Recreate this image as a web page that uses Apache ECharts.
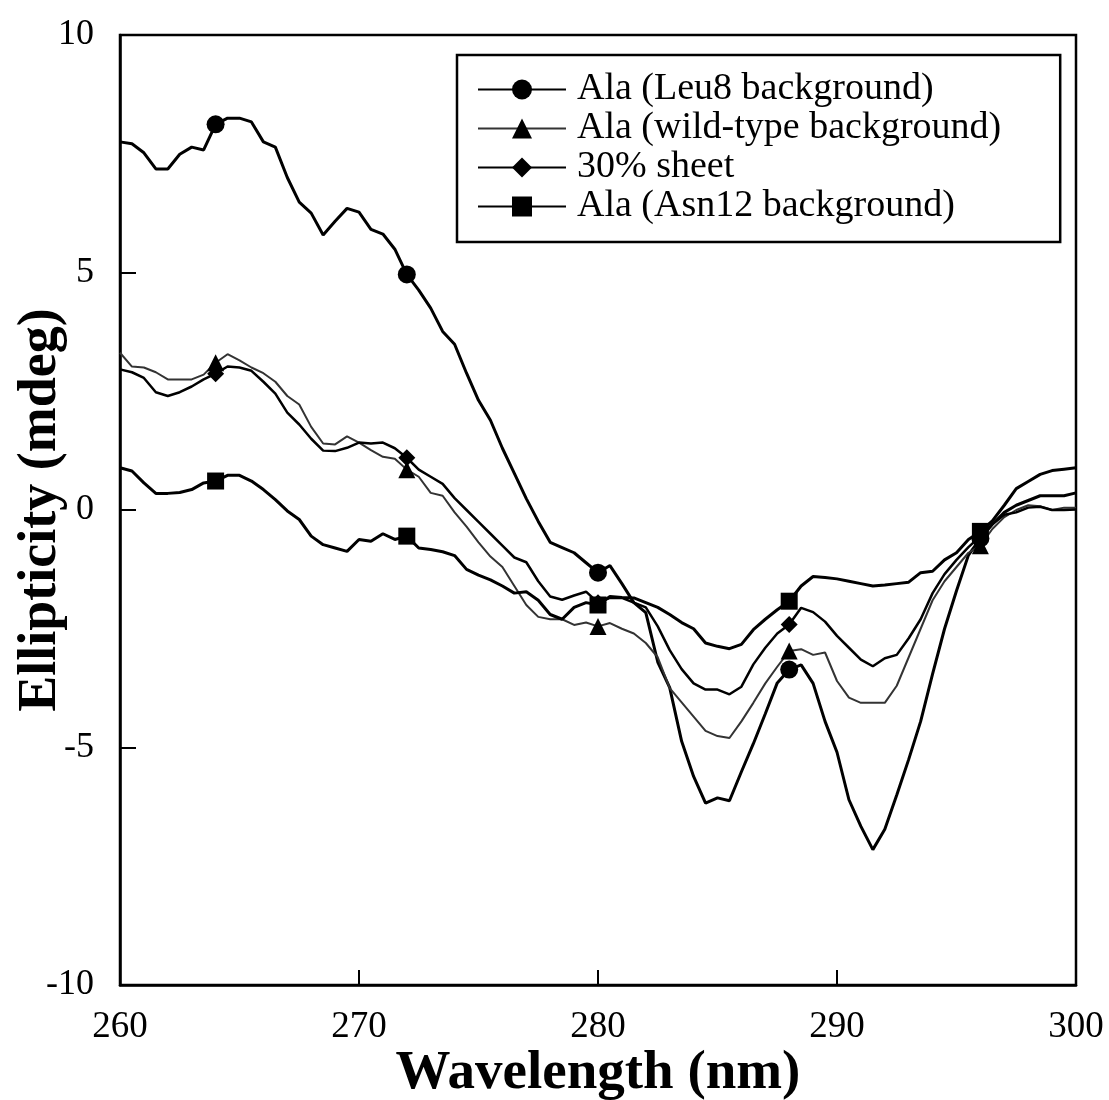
<!DOCTYPE html>
<html><head><meta charset="utf-8">
<script src="https://cdn.jsdelivr.net/npm/echarts@6/dist/echarts.min.js"></script>
<style>html,body{margin:0;padding:0;background:#fff}#c{width:1109px;height:1100px}</style>
</head><body><div id="c"></div>
<script>
// wavelengths 260..300 step 0.5 nm
var wavelengths = [];
for (var w = 260; w <= 300.001; w += 0.5) wavelengths.push(Math.round(w * 10) / 10);

var markerWavelengths = [264, 272, 280, 288, 296];

var leu8 = [7.75,7.71,7.52,7.18,7.18,7.49,7.64,7.58,8.12,8.25,8.25,8.17,7.75,7.64,7.0,6.48,6.25,5.79,6.08,6.35,6.27,5.91,5.81,5.49,4.96,
  4.63,4.25,3.76,3.49,2.88,2.31,1.89,1.30,0.77,0.24,-0.24,-0.68,-0.79,-0.90,-1.11,-1.32,
  -1.17,-1.55,-1.95,-2.16,-3.2,-3.74,-4.87,-5.61,-6.17,-6.06,-6.12,-5.51,-4.92,-4.29,-3.64,-3.36,
  -3.26,-3.65,-4.45,-5.1,-6.1,-6.66,-7.15,-6.72,-6.0,-5.25,-4.45,-3.45,-2.5,-1.7,-0.95,-0.6,
  -0.3,-0.05,0.1,0.2,0.3,0.3,0.3,0.36];

var wildType = [3.31,3.02,3.0,2.9,2.75,2.75,2.75,2.85,3.1,3.28,3.15,3.0,2.88,2.7,2.4,2.22,1.75,1.4,1.38,1.55,1.42,1.26,1.12,1.08,0.85,
  0.7,0.36,0.3,-0.05,-0.35,-0.68,-0.98,-1.2,-1.6,-2.0,-2.25,-2.3,-2.3,-2.42,-2.37,-2.45,
  -2.38,-2.5,-2.6,-2.8,-3.1,-3.75,-4.05,-4.35,-4.65,-4.76,-4.8,-4.45,-4.06,-3.65,-3.3,-2.97,
  -2.93,-3.05,-3.0,-3.6,-3.95,-4.06,-4.06,-4.06,-3.7,-3.1,-2.5,-1.9,-1.5,-1.2,-0.9,-0.75,
  -0.4,-0.15,0.0,0.1,0.08,0.0,0.05,0.05];

var sheet30 = [2.96,2.9,2.78,2.48,2.4,2.48,2.6,2.75,2.87,3.02,3.0,2.93,2.7,2.45,2.05,1.8,1.5,1.25,1.24,1.31,1.42,1.4,1.42,1.3,1.1,
  0.85,0.7,0.55,0.25,0.0,-0.25,-0.5,-0.75,-1.0,-1.1,-1.5,-1.82,-1.89,-1.8,-1.72,-1.95,
  -1.85,-1.85,-1.95,-2.05,-2.45,-2.95,-3.35,-3.65,-3.78,-3.78,-3.88,-3.72,-3.25,-2.9,-2.6,-2.41,
  -2.06,-2.15,-2.35,-2.65,-2.9,-3.15,-3.29,-3.12,-3.05,-2.7,-2.3,-1.75,-1.35,-1.05,-0.78,-0.55,
  -0.3,-0.1,-0.05,0.05,0.07,0.0,0.0,0.01];

var asn12 = [0.89,0.82,0.57,0.35,0.35,0.37,0.43,0.57,0.61,0.73,0.73,0.61,0.43,0.22,-0.02,-0.2,-0.55,-0.73,-0.8,-0.87,-0.62,-0.66,-0.5,-0.62,-0.55,
  -0.8,-0.83,-0.88,-0.96,-1.25,-1.37,-1.47,-1.6,-1.75,-1.72,-1.9,-2.2,-2.3,-2.05,-1.95,-2.0,
  -1.82,-1.84,-1.85,-1.95,-2.05,-2.2,-2.37,-2.5,-2.8,-2.87,-2.92,-2.83,-2.52,-2.3,-2.1,-1.92,
  -1.6,-1.4,-1.42,-1.45,-1.5,-1.55,-1.6,-1.58,-1.55,-1.52,-1.32,-1.29,-1.05,-0.9,-0.62,-0.45,
  -0.23,0.1,0.45,0.6,0.75,0.83,0.86,0.89];

var seriesNames = ['Ala (Leu8 background)', 'Ala (wild-type background)', '30% sheet', 'Ala (Asn12 background)'];
var xTicks = [260, 270, 280, 290, 300];
var yTicks = [-10, -5, 0, 5, 10];

function build(vals) {
  return wavelengths.map(function (x, i) {
    return markerWavelengths.indexOf(x) >= 0 ? [x, vals[i]] : { value: [x, vals[i]], symbol: 'none' };
  });
}

var FONT = '"Liberation Serif", "DejaVu Serif", serif';
var chart = echarts.init(document.getElementById('c'), null, { renderer: 'canvas' });
function mk(name, vals, symbol, size, width, color) {
  return {
    name: name, type: 'line', data: build(vals), symbol: symbol, symbolSize: size,
    showAllSymbol: true, animation: false,
    lineStyle: { color: color, width: width },
    itemStyle: { color: '#000' }, z: 3
  };
}
chart.setOption({
  backgroundColor: '#fff',
  animation: false,
  grid: { left: 120, right: 33, top: 35, bottom: 115, show: true, borderColor: '#000', borderWidth: 2.5,
    containLabel: false, outerBoundsMode: 'none' },
  xAxis: {
    type: 'value', min: 260, max: 300, interval: 10,
    name: 'Wavelength (nm)', nameLocation: 'middle', nameGap: 61, nameMoveOverlap: false,
    nameTextStyle: { fontFamily: FONT, fontWeight: 'bold', fontSize: 55, color: '#000' },
    axisLine: { show: true, onZero: false, lineStyle: { color: '#000', width: 2.5 } },
    axisTick: { show: true, inside: true, length: 15, lineStyle: { color: '#000', width: 2 } },
    axisLabel: { fontFamily: FONT, fontSize: 37, color: '#000', margin: 24,
      formatter: function (v) { return xTicks.indexOf(v) >= 0 ? String(v) : ''; } },
    splitLine: { show: false }
  },
  yAxis: {
    type: 'value', min: -10, max: 10, interval: 5,
    name: 'Ellipticity (mdeg)', nameLocation: 'middle', nameGap: 52, nameRotate: 90, nameMoveOverlap: false,
    nameTextStyle: { fontFamily: FONT, fontWeight: 'bold', fontSize: 54, color: '#000' },
    axisLine: { show: true, onZero: false, lineStyle: { color: '#000', width: 2.5 } },
    axisTick: { show: true, inside: true, length: 16, lineStyle: { color: '#000', width: 2 } },
    axisLabel: { fontFamily: FONT, fontSize: 36, color: '#000', margin: 26,
      formatter: function (v) { return yTicks.indexOf(v) >= 0 ? String(v) : ''; } },
    splitLine: { show: false }
  },
  legend: {
    left: 457, top: 55, orient: 'vertical',
    data: seriesNames,
    backgroundColor: '#fff', borderColor: '#000', borderWidth: 2.5,
    padding: [15, 59, 16, 20], itemGap: 0, itemWidth: 88, itemHeight: 25,
    textStyle: { fontFamily: FONT, fontSize: 38, lineHeight: 39, color: '#000', padding: [0, 0, 0, 6] }
  },
  series: [
    mk(seriesNames[0], leu8, 'circle', 18, 3, '#000'),
    mk(seriesNames[1], wildType, 'triangle', 17, 2, '#333'),
    mk(seriesNames[2], sheet30, 'diamond', 17, 2.5, '#000'),
    mk(seriesNames[3], asn12, 'rect', 17, 3, '#000')
  ]
});
</script></body></html>
